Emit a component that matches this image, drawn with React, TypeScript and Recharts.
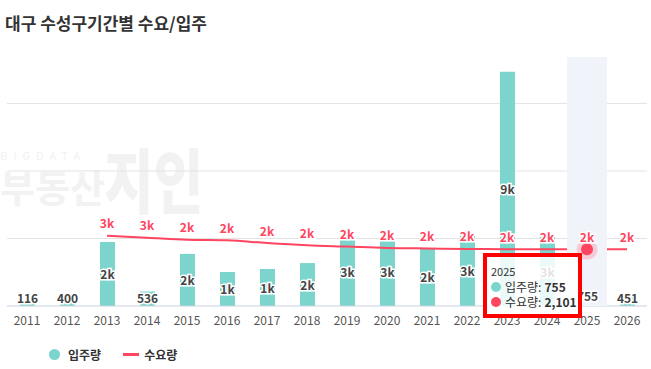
import {
  ComposedChart,
  Bar,
  Line,
  XAxis,
  YAxis,
  CartesianGrid,
  Tooltip,
  LabelList,
} from "recharts";

const FONT = "'Noto Sans CJK KR', 'Noto Sans', sans-serif";

const years = [
  "2011", "2012", "2013", "2014", "2015", "2016", "2017", "2018",
  "2019", "2020", "2021", "2022", "2023", "2024", "2025", "2026",
];

// 입주량
const supply = [
  116, 400, 2370, 536, 1930, 1260, 1370, 1590,
  2560, 2550, 2150, 2630, 8670, 2560, 755, 451,
];

// 수요량 (starts in 2013)
const demand = [
  null, null, 2600, 2530, 2450, 2430, 2330, 2250,
  2200, 2150, 2130, 2115, 2105, 2100, 2101, 2100,
];

const gridLines = [2500, 5000, 7500];

const data = years.map((year, i) => ({
  year,
  supply: supply[i],
  demand: demand[i],
}));

const fmt = (v: number) => (v >= 1000 ? Math.round(v / 1000) + "k" : String(v));

function BarLabel(props: any) {
  const { x, y, width, height, value } = props;
  if (value == null) return null;
  const cy = Math.min(y + height / 2, 297);
  return (
    <text
      x={x + width / 2}
      y={cy}
      textAnchor="middle"
      dominantBaseline="central"
      fontSize={12}
      fontWeight={700}
      fill="#444"
      stroke="#fff"
      strokeWidth={3}
      paintOrder="stroke"
      fontFamily={FONT}
    >
      {fmt(value)}
    </text>
  );
}

function LineLabel(props: any) {
  const { x, y, value } = props;
  if (value == null) return null;
  return (
    <text
      x={x}
      y={y - 13}
      textAnchor="middle"
      dominantBaseline="central"
      fontSize={12}
      fontWeight={700}
      fill="#ff4560"
      stroke="#fff"
      strokeWidth={3}
      paintOrder="stroke"
      fontFamily={FONT}
    >
      {fmt(value)}
    </text>
  );
}

// band-shaped hover highlight
function BandCursor(props: any) {
  const { points } = props;
  if (!points || points.length < 2) return null;
  const x = points[0].x;
  const top = Math.min(points[0].y, points[1].y);
  const bottom = Math.max(points[0].y, points[1].y);
  return <rect x={x - 20} y={top} width={40} height={bottom - top} fill="#f0f3f9" />;
}

function TipBox({ active, payload, label }: any) {
  if (!active || !payload || !payload.length) return null;
  const row = payload[0].payload;
  const dot = (c: string) => (
    <span
      style={{
        display: "inline-block",
        width: 10,
        height: 10,
        borderRadius: 5,
        background: c,
        marginRight: 4,
      }}
    />
  );
  return (
    <div
      style={{
        width: 99,
        height: 65,
        boxSizing: "border-box",
        border: "4px solid #ff0000",
        background: "rgba(255,255,255,0.85)",
        padding: "7px 0 0 4px",
        fontFamily: FONT,
        color: "#333",
        lineHeight: "15px",
      }}
    >
      <div style={{ fontSize: 11 }}>{label}</div>
      <div style={{ fontSize: 12, display: "flex", alignItems: "center" }}>
        {dot("#7bd5cc")}입주량: <b style={{ marginLeft: 3 }}>{row.supply.toLocaleString()}</b>
      </div>
      <div style={{ fontSize: 12, display: "flex", alignItems: "center" }}>
        {dot("#ff4560")}수요량: <b style={{ marginLeft: 3 }}>{row.demand.toLocaleString()}</b>
      </div>
    </div>
  );
}

export default function App() {
  return (
    <div
      style={{
        position: "absolute",
        left: 0,
        top: 0,
        width: 651,
        height: 369,
        background: "#fff",
        overflow: "hidden",
        fontFamily: FONT,
      }}
    >
      {/* watermark */}
      <div style={{ position: "absolute", left: 0, top: 0, color: "#f2f2f2", fontWeight: 700, lineHeight: 1 }}>
        <div style={{ position: "absolute", left: 0, top: 150, fontSize: 11, letterSpacing: 6, fontWeight: 400 }}>
          BIGDATA
        </div>
        <div style={{ position: "absolute", left: 0, top: 167, fontSize: 38, whiteSpace: "nowrap" }}>
          부동산
        </div>
        <div
          style={{
            position: "absolute",
            left: 104,
            top: 143,
            fontSize: 54,
            fontWeight: 900,
            whiteSpace: "nowrap",
            transform: "scaleY(1.3)",
            transformOrigin: "top left",
          }}
        >
          지인
        </div>
      </div>

      <div
        style={{
          position: "absolute",
          left: 5,
          top: 10,
          fontSize: 17,
          fontWeight: 700,
          color: "#333",
          whiteSpace: "nowrap",
        }}
      >
        대구 수성구기간별 수요/입주
      </div>

      <div style={{ position: "absolute", left: 0, top: 0 }}>
        <ComposedChart
          width={651}
          height={369}
          data={data}
          margin={{ top: 57, right: 4, left: 7, bottom: 33 }}
        >
          <CartesianGrid vertical={false} stroke="#e3e3e3" horizontalValues={gridLines} />
          <XAxis
            dataKey="year"
            height={30}
            interval={0}
            tickLine={false}
            tickMargin={4}
            axisLine={{ stroke: "#c9d1e3" }}
            tick={{ fontSize: 12, fill: "#555", fontFamily: FONT }}
          />
          <YAxis hide domain={[0, 9220]} ticks={[0, ...gridLines]} />
          <Tooltip
            defaultIndex={14}
            position={{ x: 483, y: 253 }}
            cursor={<BandCursor />}
            content={<TipBox />}
            isAnimationActive={false}
            wrapperStyle={{ outline: "none" }}
          />
          <Bar dataKey="supply" name="입주량" fill="#7bd5cc" barSize={15} isAnimationActive={false}>
            <LabelList dataKey="supply" content={<BarLabel />} />
          </Bar>
          <Line
            dataKey="demand"
            name="수요량"
            type="monotone"
            stroke="#ff4560"
            strokeWidth={2}
            dot={false}
            activeDot={{ r: 6, fill: "#ff4560", stroke: "rgba(255,69,96,0.22)", strokeWidth: 9 }}
            isAnimationActive={false}
          >
            <LabelList dataKey="demand" content={<LineLabel />} />
          </Line>
        </ComposedChart>
      </div>

      {/* legend */}
      <div
        style={{
          position: "absolute",
          left: 49,
          top: 346,
          display: "flex",
          alignItems: "center",
          fontSize: 12,
          fontWeight: 700,
          color: "#333",
        }}
      >
        <span style={{ width: 11, height: 11, borderRadius: 6, background: "#7bd5cc", marginRight: 8 }} />
        <span>입주량</span>
        <span style={{ width: 16, height: 3, background: "#ff4560", marginLeft: 22, marginRight: 5 }} />
        <span>수요량</span>
      </div>
    </div>
  );
}
